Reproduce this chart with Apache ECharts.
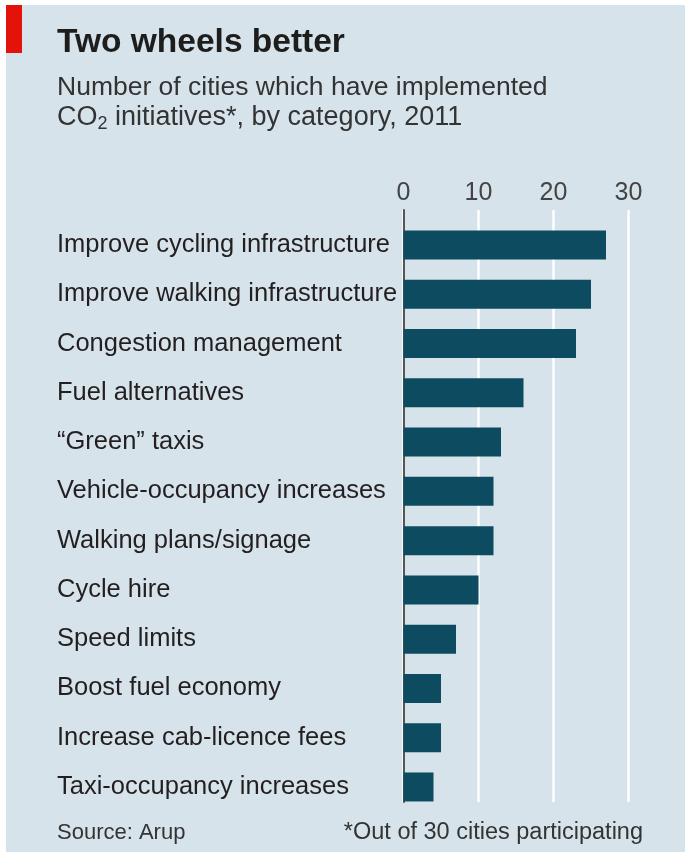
<!DOCTYPE html>
<html>
<head>
<meta charset="utf-8">
<script src="https://cdn.jsdelivr.net/npm/echarts@6/dist/echarts.min.js"></script>
<style>
  html, body { margin: 0; padding: 0; background: #fff; }
  #chart { width: 685px; height: 852px; }
</style>
</head>
<body>
<div id="chart"></div>
<script>
const categories = [
  'Improve cycling infrastructure',
  'Improve walking infrastructure',
  'Congestion management',
  'Fuel alternatives',
  '\u201cGreen\u201d taxis',
  'Vehicle-occupancy increases',
  'Walking plans/signage',
  'Cycle hire',
  'Speed limits',
  'Boost fuel economy',
  'Increase cab-licence fees',
  'Taxi-occupancy increases'
]
const cityCounts = [27, 25, 23, 16, 13, 12, 12, 10, 7, 5, 5, 4]
const tickValues = [0, 10, 20, 30]

const font = '"Liberation Sans", Arial, sans-serif'
const bg = '#d6e3ea'

const chart = echarts.init(document.getElementById('chart'))
chart.setOption({
  backgroundColor: '#fff',
  animation: false,
  textStyle: { fontFamily: font },
  graphic: [
    { type: 'rect', shape: { x: 6, y: 5, width: 679, height: 847 }, style: { fill: bg }, z: -10 },
    { type: 'rect', shape: { x: 6, y: 5, width: 16, height: 48 }, style: { fill: '#e3120b' } },
    {
      type: 'text', x: 57, y: 43,
      style: { text: 'Two wheels better', fill: '#1d1d1b', font: 'bold 33.5px ' + font, verticalAlign: 'middle' }
    },
    {
      type: 'text', x: 57, y: 88,
      style: { text: 'Number of cities which have implemented', fill: '#333', font: '26.5px ' + font, verticalAlign: 'middle' }
    },
    {
      type: 'text', x: 57, y: 118,
      style: {
        text: '{m|CO}{s|2}{m| initiatives*, by category, 2011}',
        verticalAlign: 'middle',
        rich: {
          m: { fill: '#333', fontSize: 27, fontFamily: font, lineHeight: 30 },
          s: { fill: '#333', fontSize: 18, fontFamily: font, verticalAlign: 'bottom', lineHeight: 22 }
        }
      }
    },
    {
      type: 'text', x: 57, y: 833,
      style: { text: 'Source: Arup', fill: '#333', font: '22px ' + font, verticalAlign: 'middle' }
    },
    {
      type: 'text', x: 643, y: 833,
      style: { text: '*Out of 30 cities participating', fill: '#333', font: '23.5px ' + font, verticalAlign: 'middle', align: 'right' }
    }
  ],
  grid: [
    { left: 403.5, right: 56.5, top: 220.4, bottom: 40.4 },
    { left: 403.5, right: 56.5, top: 210, bottom: 50 }
  ],
  xAxis: [
    { gridIndex: 0, type: 'value', min: 0, max: 30, show: false },
    {
      gridIndex: 1, type: 'value', min: 0, max: 30, interval: 10, position: 'top',
      axisLine: { show: false }, axisTick: { show: false },
      axisLabel: {
        color: '#444', fontSize: 25, margin: 4,
        formatter: (v) => tickValues.includes(v) ? String(v) : ''
      },
      splitLine: { show: true, lineStyle: { color: '#fff', width: 2.5 } }
    }
  ],
  yAxis: [
    {
      gridIndex: 0, type: 'category', data: categories, inverse: true,
      axisLine: { show: false }, axisTick: { show: false },
      axisLabel: { align: 'left', margin: 346.5, color: '#231f20', fontSize: 25.5, padding: [3, 0, 0, 0] }
    },
    {
      gridIndex: 1, type: 'value', min: 0, max: 1,
      axisLine: { show: true, lineStyle: { color: '#555', width: 2 } },
      axisTick: { show: false }, axisLabel: { show: false }, splitLine: { show: false }
    }
  ],
  series: [
    {
      type: 'bar', xAxisIndex: 0, yAxisIndex: 0,
      data: cityCounts, barWidth: 29,
      itemStyle: { color: '#0d4b61' }
    }
  ]
})
</script>
</body>
</html>
